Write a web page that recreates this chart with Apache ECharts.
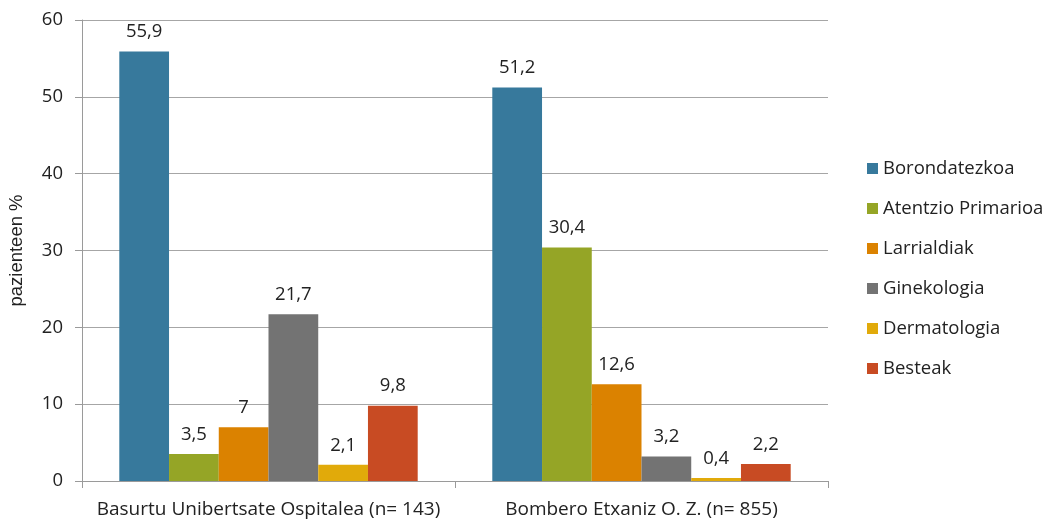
<!DOCTYPE html>
<html>
<head>
<meta charset="utf-8">
<script src="https://cdn.jsdelivr.net/npm/echarts@6/dist/echarts.min.js"></script>
<style>
html,body{margin:0;padding:0;background:#fff;}
#chart{width:1051px;height:521px;}
</style>
</head>
<body>
<div id="chart"></div>
<script>
// Categories (hospitals) and percentage of patients per referral source
const categories = ['Basurtu Unibertsate Ospitalea (n= 143)', 'Bombero Etxaniz O. Z. (n= 855)'];
const seriesNames = ['Borondatezkoa', 'Atentzio Primarioa', 'Larrialdiak', 'Ginekologia', 'Dermatologia', 'Besteak'];
const borondatezkoa = [55.9, 51.2];
const atentzioPrimarioa = [3.5, 30.4];
const larrialdiak = [7, 12.6];
const ginekologia = [21.7, 3.2];
const dermatologia = [2.1, 0.4];
const besteak = [9.8, 2.2];
const colors = ['#37799C', '#95A526', '#DB8200', '#737373', '#E1AA0A', '#C84B23'];
const yTicks = [0, 10, 20, 30, 40, 50, 60];

const values = [borondatezkoa, atentzioPrimarioa, larrialdiak, ginekologia, dermatologia, besteak];
const font = '"Open Sans", "Liberation Sans", sans-serif';
const fs = 18.5;

const chart = echarts.init(document.getElementById('chart'));
chart.setOption({
  animation: false,
  textStyle: { fontFamily: font },
  grid: { left: 82, right: 223, top: 20, bottom: 40, containLabel: false, outerBoundsMode: 'none' },
  legend: {
    orient: 'vertical',
    left: 862, top: 154,
    itemWidth: 11, itemHeight: 11, itemGap: 21,
    icon: 'rect',
    textStyle: { fontSize: fs, lineHeight: 19, color: '#222', fontFamily: font },
    data: seriesNames
  },
  xAxis: {
    type: 'category',
    data: categories,
    axisLine: { lineStyle: { color: '#9a9a9a', width: 1 } },
    axisTick: { show: true, length: 7, lineStyle: { color: '#9a9a9a' } },
    axisLabel: { interval: 0, fontSize: 19, color: '#222', margin: 19, fontFamily: font }
  },
  yAxis: {
    type: 'value',
    min: yTicks[0], max: yTicks[yTicks.length - 1], interval: 10,
    name: 'pazienteen %',
    nameLocation: 'middle',
    nameGap: 56,
    nameTextStyle: { fontSize: 18.5, color: '#222', fontFamily: '"Liberation Sans", Arial, sans-serif' },
    axisLine: { show: true, lineStyle: { color: '#9a9a9a' } },
    axisTick: { show: true, length: 7, lineStyle: { color: '#9a9a9a' } },
    axisLabel: { fontSize: fs, color: '#222', margin: 19, fontFamily: font },
    splitLine: { lineStyle: { color: '#a6a6a6', width: 1 } }
  },
  series: seriesNames.map((name, i) => ({
    name,
    type: 'bar',
    data: values[i],
    barGap: '0%',
    barCategoryGap: '20%',
    itemStyle: { color: colors[i] },
    label: {
      show: true,
      position: 'top',
      distance: 10,
      fontSize: fs,
      color: '#222',
      fontFamily: font,
      formatter: p => String(p.value).replace('.', ',')
    }
  }))
});
</script>
</body>
</html>
